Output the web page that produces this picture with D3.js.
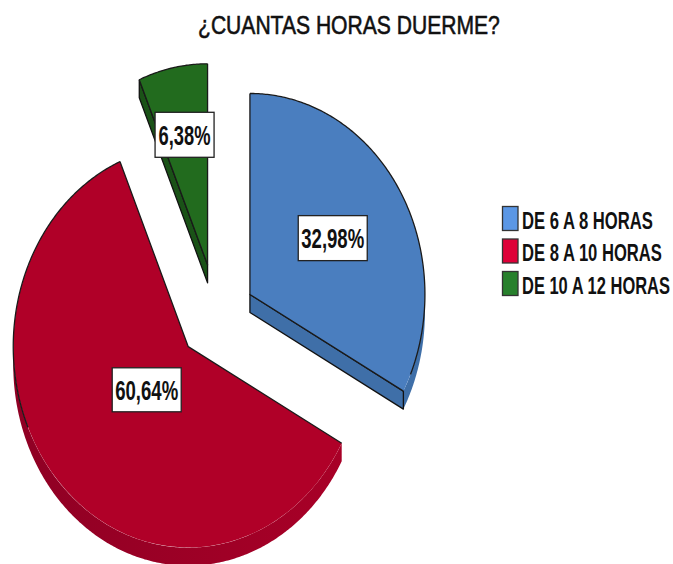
<!DOCTYPE html>
<html>
<head>
<meta charset="utf-8">
<script src="https://d3js.org/d3.v7.min.js"></script>
<style>
  html, body { margin: 0; background: #fff; }
  text { font-family: "Liberation Sans", Arial, sans-serif; font-weight: bold; fill: #111; }
</style>
</head>
<body>
<script>
var chartTitle = "¿CUANTAS HORAS DUERME?";
var categories = ["DE 6 A 8 HORAS", "DE 8 A 10 HORAS", "DE 10 A 12 HORAS"];
var percents = [32.98, 60.64, 6.38];

var topColors = ["#4a7ebf", "#b00028", "#226b1e"];
var sideColors = ["#3f6fa8", "#8f0024", "#1a5217"];
var sideColorsLight = ["#3f6fa8", "#a80027", "#1a5217"];
var legendColors = ["#5b97e5", "#de0038", "#27802c"];

// how far each slice is pulled out, and where its label sits (fractions of the radius)
var explode = [0.22, 0.22, 0.265];
var labelRadius = [0.55, 0.32, 0.66];
var labelBox = [[69, 45], [69, 44], [59, 45]];
var labelTextWidth = [63, 63, 52];
var legendTextWidth = [131, 140, 148];

var width = 673, height = 564;
var rx = 175, ry = 201, depth = 18;
var cx = 216.8, cy = 317;

var svg = d3.select("body").append("svg")
    .attr("width", width)
    .attr("height", height)
    .style("display", "block");

var defs = svg.append("defs");

// squeeze a text sideways until it is as wide as the original
function fitText(sel, widthOf) {
  sel.each(function(d, i) {
    var t = d3.select(this);
    var natural = this.getComputedTextLength();
    var anchor = t.attr("data-x") || 0;
    t.attr("transform", "translate(" + anchor + "," + t.attr("data-y") + ") scale(" + (widthOf(d, i) / natural) + ",1)");
  });
}

svg.append("text")
    .attr("data-x", 198)
    .attr("data-y", 34)
    .attr("font-size", 26)
    .style("font-weight", "normal")
    .attr("stroke", "#111")
    .attr("stroke-width", 0.6)
    .text(chartTitle)
    .call(fitText, function() { return 302; });

var pie = d3.pie().sort(null).startAngle(0).endAngle(2 * Math.PI);
var arcs = pie(percents);
var unitArc = d3.arc().innerRadius(0).outerRadius(1);

// unit circle angle -> pixel offset on the flattened pie
function px(a, r) { return rx * r * Math.sin(a); }
function py(a, r) { return -ry * r * Math.cos(a); }

var rim = d3.area()
    .x(function(a) { return px(a, 1); })
    .y0(function(a) { return py(a, 1); })
    .y1(function(a) { return py(a, 1) + depth; });

var rimLine = d3.line()
    .x(function(a) { return px(a, 1); })
    .y(function(a) { return py(a, 1); });

function anglesBetween(a0, a1) {
  return d3.range(a0, a1, 0.01).concat([a1]);
}

var sideGrad = defs.selectAll("linearGradient")
    .data(arcs)
    .enter().append("linearGradient")
    .attr("id", function(d, i) { return "side" + i; });
sideGrad.append("stop").attr("offset", "0").attr("stop-color", function(d, i) { return sideColors[i]; });
sideGrad.append("stop").attr("offset", "1").attr("stop-color", function(d, i) { return sideColorsLight[i]; });

var slices = svg.append("g").selectAll("g")
    .data(arcs)
    .enter().append("g")
    .attr("transform", function(d, i) {
      var mid = (d.startAngle + d.endAngle) / 2;
      return "translate(" + (cx + px(mid, explode[i])) + "," + (cy + py(mid, explode[i])) + ")";
    });

// outer wall, only the front half of the pie can be seen
slices.append("path")
    .attr("fill", function(d, i) { return "url(#side" + i + ")"; })
    .attr("d", function(d) {
      var a0 = Math.max(d.startAngle, Math.PI / 2), a1 = Math.min(d.endAngle, 3 * Math.PI / 2);
      if (a1 <= a0) return null;
      return rim(anglesBetween(a0, a1));
    });

// cut wall, the start edge shows on the left half and the end edge on the right half
slices.append("path")
    .attr("fill", function(d, i) { return sideColors[i]; })
    .attr("stroke", "#111")
    .attr("stroke-width", 1.3)
    .attr("stroke-linejoin", "round")
    .attr("d", function(d) {
      var a = d.startAngle > Math.PI ? d.startAngle : (d.endAngle < Math.PI ? d.endAngle : null);
      if (a === null) return null;
      var x = px(a, 1), y = py(a, 1);
      return "M0,0L" + x + "," + y + "L" + x + "," + (y + depth) + "L0," + depth + "Z";
    });

slices.append("path")
    .attr("d", unitArc)
    .attr("transform", "scale(" + rx + "," + ry + ")")
    .attr("fill", function(d, i) { return topColors[i]; });

// dark outline on the cuts and the back of the rim, the front of the rim has none
slices.append("path")
    .attr("fill", "none")
    .attr("stroke", "#1a1a1a")
    .attr("stroke-width", 1.3)
    .attr("stroke-linejoin", "round")
    .attr("d", function(d) {
      var a0 = d.startAngle, a1 = d.endAngle;
      var edges = "M" + px(a0, 1) + "," + py(a0, 1) + "L0,0L" + px(a1, 1) + "," + py(a1, 1);
      var frontStart = 1.98, frontEnd = 4.3;
      var back = a1 <= frontStart ? [a0, a1] : (a0 >= frontEnd ? [a0, a1] :
        (a0 < frontStart ? [a0, frontStart] : (a1 > frontEnd ? [frontEnd, a1] : null)));
      return edges + (back ? rimLine(anglesBetween(back[0], back[1])) : "");
    });

var labels = slices.append("g")
    .attr("transform", function(d, i) {
      var mid = (d.startAngle + d.endAngle) / 2;
      return "translate(" + px(mid, labelRadius[i]) + "," + py(mid, labelRadius[i]) + ")";
    });

labels.append("rect")
    .attr("x", function(d, i) { return -labelBox[i][0] / 2; })
    .attr("y", function(d, i) { return -labelBox[i][1] / 2; })
    .attr("width", function(d, i) { return labelBox[i][0]; })
    .attr("height", function(d, i) { return labelBox[i][1]; })
    .attr("fill", "#fff")
    .attr("stroke", "#222")
    .attr("stroke-width", 1.3);

labels.append("text")
    .attr("data-x", function(d, i) { return -labelTextWidth[i] / 2; })
    .attr("data-y", 10)
    .attr("font-size", 27)
    .text(function(d) { return d3.format(".2f")(d.value).replace(".", ",") + "%"; })
    .call(fitText, function(d, i) { return labelTextWidth[i]; });

var legendY = d3.scalePoint().domain(categories).range([218.5, 283.5]);

var legend = svg.append("g").selectAll("g")
    .data(categories)
    .enter().append("g")
    .attr("transform", function(d) { return "translate(502," + legendY(d) + ")"; });

legend.append("rect")
    .attr("x", 0.5)
    .attr("y", -12)
    .attr("width", 15.5)
    .attr("height", 24)
    .attr("fill", function(d, i) { return legendColors[i]; })
    .attr("stroke", "#333")
    .attr("stroke-width", 1.3);

legend.append("text")
    .attr("data-x", 20)
    .attr("data-y", 10)
    .attr("font-size", 23)
    .text(function(d) { return d; })
    .call(fitText, function(d, i) { return legendTextWidth[i]; });
</script>
</body>
</html>
